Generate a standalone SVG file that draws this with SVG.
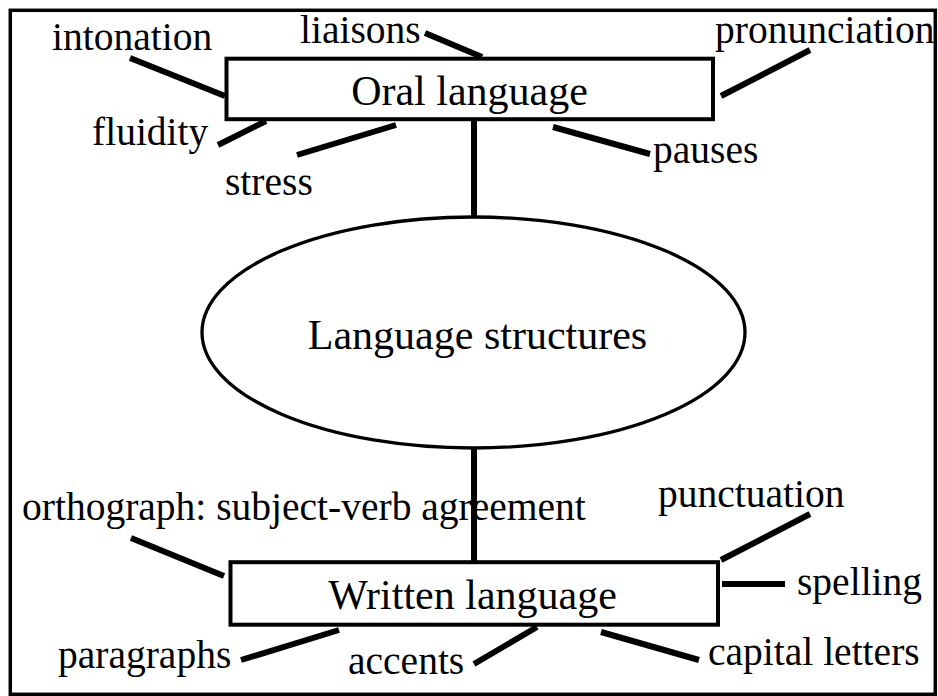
<svg xmlns="http://www.w3.org/2000/svg" width="938" height="696" viewBox="0 0 938 696">
<style>
text{font-family:"Liberation Serif","Times New Roman",serif;fill:#000}
.lbl{font-size:39.5px}
.main{font-size:42px;text-anchor:middle}
.box{fill:#fff;stroke:#000;stroke-width:4}
.ell{fill:#fff;stroke:#000;stroke-width:3.3}
.con line{stroke:#000;stroke-width:6;stroke-linecap:butt}
</style>
<rect x="0" y="0" width="938" height="696" fill="#fff"/>
<rect x="10.3" y="10.3" width="925" height="684" fill="none" stroke="#000" stroke-width="3.5"/>
<g id="connectors" class="con">
<line x1="474" y1="120" x2="474" y2="218"/>
<line x1="474" y1="447" x2="474" y2="563"/>
<line x1="130" y1="58" x2="225" y2="96"/>
<line x1="425" y1="33" x2="482" y2="57"/>
<line x1="810" y1="50" x2="721" y2="96"/>
<line x1="218" y1="145" x2="266" y2="121"/>
<line x1="297" y1="155" x2="396" y2="125"/>
<line x1="553" y1="127" x2="650" y2="154"/>
<line x1="131" y1="538" x2="224" y2="576"/>
<line x1="810" y1="514" x2="721" y2="560"/>
<line x1="722" y1="584" x2="785" y2="584"/>
<line x1="241" y1="660" x2="339" y2="630"/>
<line x1="474" y1="664" x2="537" y2="627"/>
<line x1="601" y1="632" x2="699" y2="660"/>
</g>
<g id="oral">
<rect class="box" x="226.5" y="58.7" width="486.5" height="60.5"/>
<text class="main" x="469.5" y="105">Oral language</text>
</g>
<g id="structures">
<ellipse class="ell" cx="473.5" cy="332.5" rx="271.5" ry="115.5"/>
<text class="main" x="477.5" y="349">Language structures</text>
</g>
<g id="written">
<rect class="box" x="230.5" y="562.2" width="487.5" height="62.5"/>
<text class="main" x="472.5" y="609">Written language</text>
</g>
<g id="intonation"><text class="lbl" x="52" y="50">intonation</text></g>
<g id="liaisons"><text class="lbl" x="300" y="43">liaisons</text></g>
<g id="pronunciation"><text class="lbl" x="715" y="43">pronunciation</text></g>
<g id="fluidity"><text class="lbl" x="92" y="145">fluidity</text></g>
<g id="stress"><text class="lbl" x="225" y="195">stress</text></g>
<g id="pauses"><text class="lbl" x="653" y="163">pauses</text></g>
<g id="orthograph"><text class="lbl" x="22" y="520">orthograph: subject-verb agreement</text></g>
<g id="punctuation"><text class="lbl" x="658" y="507">punctuation</text></g>
<g id="spelling"><text class="lbl" x="797" y="595">spelling</text></g>
<g id="paragraphs"><text class="lbl" x="58" y="668">paragraphs</text></g>
<g id="accents"><text class="lbl" x="348" y="674">accents</text></g>
<g id="capital"><text class="lbl" x="708" y="665">capital letters</text></g>
</svg>
